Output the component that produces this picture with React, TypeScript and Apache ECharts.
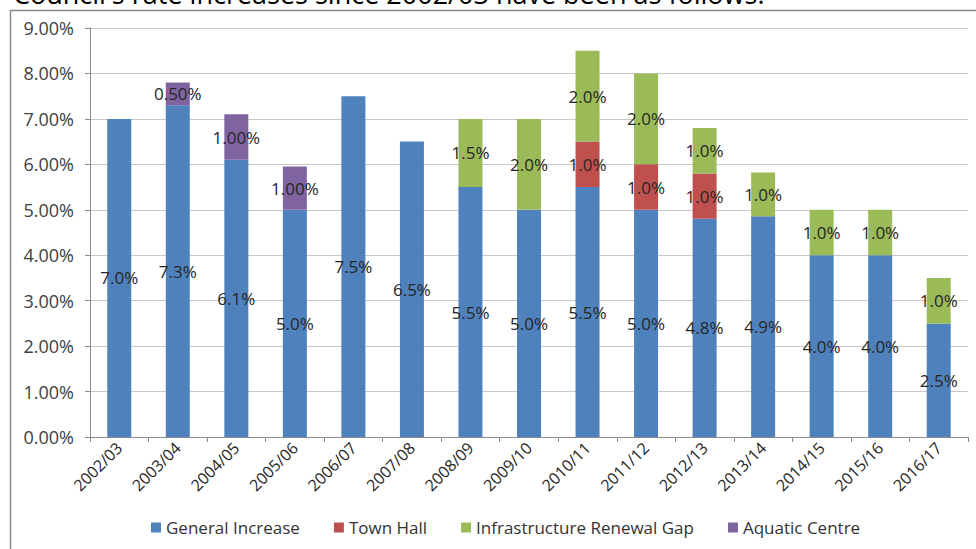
import React, { useEffect, useRef } from "react";
import * as echarts from "echarts";

const categories = ["2002/03", "2003/04", "2004/05", "2005/06", "2006/07", "2007/08", "2008/09", "2009/10", "2010/11", "2011/12", "2012/13", "2013/14", "2014/15", "2015/16", "2016/17"];
const generalIncrease = [7.0, 7.3, 6.1, 5.0, 7.5, 6.5, 5.5, 5.0, 5.5, 5.0, 4.8, 4.86, 4.0, 4.0, 2.5];
const townHall = [null, null, null, null, null, null, null, null, 1.0, 1.0, 1.0, null, null, null, null];
const infrastructureGap = [null, null, null, null, null, null, 1.5, 2.0, 2.0, 2.0, 1.0, 0.96, 1.0, 1.0, 1.0];
const aquaticCentre = [null, 0.5, 1.0, 0.95, null, null, null, null, null, null, null, null, null, null, null];
const aquaticLabels = ["", "0.50%", "1.00%", "1.00%", "", "", "", "", "", "", "", "", "", "", ""];
const yTicks = [0, 1, 2, 3, 4, 5, 6, 7, 8, 9];
const headingText = "Council's rate increases since 2002/03 have been as follows:";

const FONT = "Open Sans";

export default function App() {
  const ref = useRef<HTMLDivElement>(null);
  useEffect(() => {
    document.body.style.margin = "0";
    const chart = echarts.init(ref.current!, null, { renderer: "svg" });
    const label = (fmt: (p: any) => string) => ({
      show: true,
      position: "inside" as const,
      color: "#262626",
      fontSize: 17,
      fontFamily: FONT,
      formatter: fmt,
    });
    const oneDec = (p: any) => (p.value == null ? "" : Number(p.value).toFixed(1) + "%");
    const mk = (name: string, data: any[], color: string, fmt: (p: any) => string) => ({
      name,
      type: "bar" as const,
      stack: "total",
      data,
      barWidth: 24,
      itemStyle: { color },
      label: label(fmt),
    });
    chart.setOption({
      animation: false,
      backgroundColor: "#ffffff",
      textStyle: { fontFamily: FONT },
      graphic: [
        {
          type: "rect",
          shape: { x: 10.5, y: 10.5, width: 1000, height: 600 },
          style: { fill: "none", stroke: "#8a8a8a", lineWidth: 1.5 },
          silent: true,
        },
        {
          type: "text",
          x: 13,
          y: -7,
          style: {
            text: headingText,
            fontSize: 27,
            fontFamily: FONT,
            fill: "#000000",
            textVerticalAlign: "middle",
          },
          silent: true,
        },
      ],
      grid: { left: 90, top: 28, right: 8, bottom: 112, containLabel: false },
      legend: {
        bottom: 8,
        left: 146,
        itemWidth: 10,
        itemHeight: 10,
        itemGap: 34,
        icon: "rect",
        textStyle: { fontSize: 17, color: "#333333", fontFamily: FONT },
        data: ["General Increase", "Town Hall", "Infrastructure Renewal Gap", "Aquatic Centre"],
      },
      xAxis: {
        type: "category",
        data: categories,
        axisLine: { lineStyle: { color: "#8c8c8c" } },
        axisTick: { show: true, length: 5, lineStyle: { color: "#8c8c8c" } },
        axisLabel: { rotate: 45, fontSize: 16, color: "#262626", fontFamily: FONT, margin: 8, interval: 0 },
      },
      yAxis: {
        type: "value",
        min: yTicks[0],
        max: yTicks[yTicks.length - 1],
        interval: 1,
        axisLine: { show: true, lineStyle: { color: "#8c8c8c" } },
        axisTick: { show: true, length: 5, lineStyle: { color: "#8c8c8c" } },
        splitLine: { lineStyle: { color: "#c8c8c8" } },
        axisLabel: {
          fontSize: 18,
          color: "#404040",
          fontFamily: FONT,
          margin: 16,
          formatter: (v: number) => v.toFixed(2) + "%",
        },
      },
      series: [
        mk("General Increase", generalIncrease, "#4f81bd", oneDec),
        mk("Town Hall", townHall, "#c0504d", oneDec),
        mk("Infrastructure Renewal Gap", infrastructureGap, "#9bbb59", oneDec),
        mk("Aquatic Centre", aquaticCentre, "#8064a2", (p: any) => aquaticLabels[p.dataIndex]),
      ],
    });
    return () => chart.dispose();
  }, []);
  return <div ref={ref} style={{ width: 976, height: 549 }} />;
}
